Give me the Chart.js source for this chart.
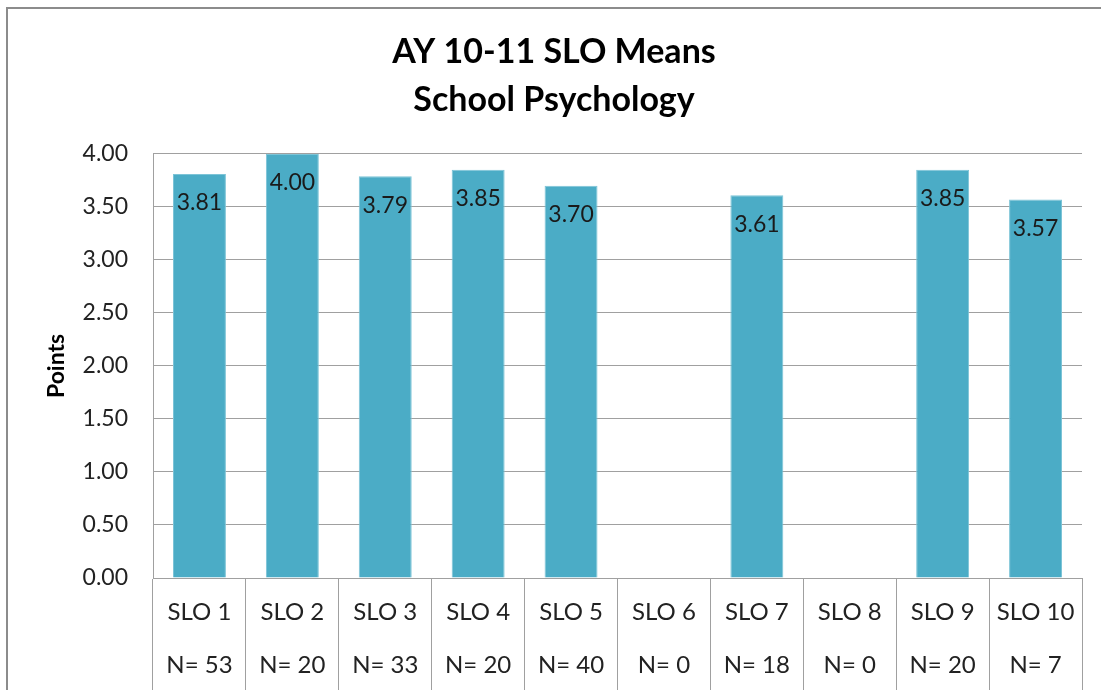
<!DOCTYPE html>
<html>
<head>
<meta charset="utf-8">
<script src="https://cdn.jsdelivr.net/npm/chart.js@4/dist/chart.umd.min.js"></script>
<style>
  html, body { margin: 0; padding: 0; background: #ffffff; }
  #c { display: block; }
</style>
</head>
<body>
<canvas id="c" width="1101" height="690"></canvas>
<script>
const categories = ['SLO 1', 'SLO 2', 'SLO 3', 'SLO 4', 'SLO 5', 'SLO 6', 'SLO 7', 'SLO 8', 'SLO 9', 'SLO 10'];
const nCounts = [53, 20, 33, 20, 40, 0, 18, 0, 20, 7];
const meanValues = [3.81, 4.00, 3.79, 3.85, 3.70, null, 3.61, null, 3.85, 3.57];
const yTicks = [0, 0.5, 1, 1.5, 2, 2.5, 3, 3.5, 4];
const titleLines = ['AY 10-11 SLO Means', 'School Psychology'];
const yTitle = 'Points';

const FONT = 'Lato, Carlito, "Liberation Sans", sans-serif';
const GRID = '#A0A0A0';

const xLabels = categories.map((c, i) => [c, 'N= ' + nCounts[i]]);

const framePlugin = {
  id: 'frame',
  beforeDraw(chart) {
    const ctx = chart.ctx;
    ctx.save();
    ctx.fillStyle = '#ffffff';
    ctx.fillRect(0, 0, chart.width, chart.height);
    ctx.strokeStyle = '#8C8C8C';
    ctx.lineWidth = 2;
    ctx.strokeRect(7, 8, chart.width + 20, chart.height + 20);
    ctx.restore();
  }
};

const labelPlugin = {
  id: 'barLabels',
  afterDatasetsDraw(chart) {
    const ctx = chart.ctx;
    const meta = chart.getDatasetMeta(0);
    ctx.save();
    ctx.font = '23px ' + FONT;
    ctx.fillStyle = '#1a1a1a';
    ctx.textAlign = 'center';
    ctx.textBaseline = 'middle';
    meta.data.forEach((bar, i) => {
      const v = meanValues[i];
      if (v === null || v === undefined) return;
      ctx.fillText(v.toFixed(2), bar.x, bar.y + 29);
    });
    ctx.restore();
  }
};

new Chart(document.getElementById('c'), {
  type: 'bar',
  data: {
    labels: xLabels,
    datasets: [{
      data: meanValues,
      backgroundColor: '#4BACC6',
      borderColor: '#7DC4D7',
      borderWidth: 1,
      categoryPercentage: 1,
      barPercentage: 0.57
    }]
  },
  options: {
    responsive: false,
    animation: false,
    devicePixelRatio: 1,
    layout: { padding: { left: 26, right: 19, top: 0, bottom: 0 } },
    plugins: {
      legend: { display: false },
      tooltip: { enabled: false },
      title: {
        display: true,
        text: titleLines,
        color: '#000000',
        font: { family: FONT, size: 34, weight: 'bold', lineHeight: 1.41 },
        padding: { top: 28.5, bottom: 29.5 }
      }
    },
    scales: {
      x: {
        grid: { drawOnChartArea: false, drawTicks: true, tickLength: 112, offset: true, color: GRID, lineWidth: 1 },
        border: { display: true, color: GRID, width: 1 },
        ticks: {
          font: { family: FONT, size: 24, lineHeight: 2.208 },
          color: '#222222',
          padding: -104.5,
          maxRotation: 0,
          minRotation: 0,
          autoSkip: false
        },
        afterFit(scale) { scale.height = 112; }
      },
      y: {
        min: 0,
        max: 4,
        afterBuildTicks(scale) { scale.ticks = yTicks.map(v => ({ value: v })); },
        grid: { drawTicks: false, color: GRID, lineWidth: 1 },
        border: { display: true, color: GRID, width: 1 },
        ticks: {
          font: { family: FONT, size: 23 },
          color: '#222222',
          padding: 25,
          callback: v => Number(v).toFixed(2)
        },
        title: {
          display: true,
          text: yTitle,
          color: '#000000',
          font: { family: FONT, size: 23, weight: 'bold', lineHeight: 1.2 },
          padding: { top: 17, bottom: 0 }
        },
        afterFit(scale) { scale.width = 127; }
      }
    }
  },
  plugins: [framePlugin, labelPlugin]
});
</script>
</body>
</html>
